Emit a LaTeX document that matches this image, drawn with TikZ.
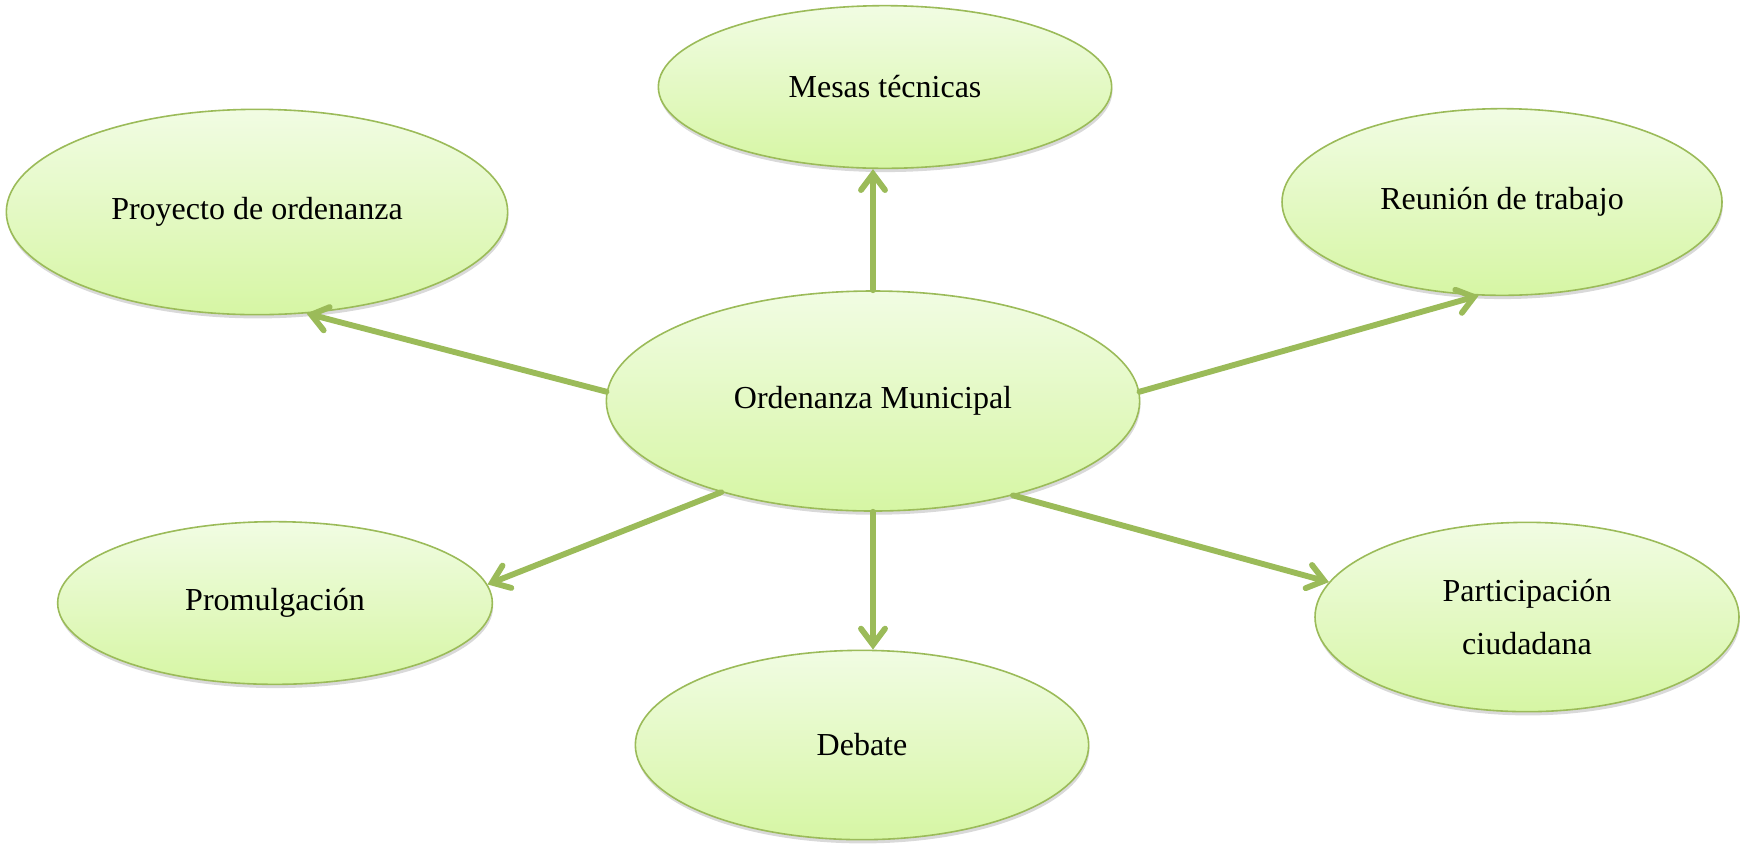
\documentclass[tikz,border=0pt]{standalone}
\usepackage{fontspec}
\setmainfont{Liberation Serif}
\usetikzlibrary{shapes.geometric,arrows.meta,shadows}
\definecolor{leafline}{HTML}{9BBB59}
\definecolor{leaftop}{HTML}{F1FCE3}
\definecolor{leafbot}{HTML}{D6F6A4}

\begin{document}
\begin{tikzpicture}[x=0.375pt,y=-0.375pt,
		idea/.style={ellipse, draw=leafline, line width=0.6pt, top color=leaftop, bottom color=leafbot,
			drop shadow={shadow xshift=0.3pt, shadow yshift=-1.4pt, opacity=0.3},
			inner sep=0pt, align=center, font=\fontsize{12}{20}\selectfont},
		link/.style={leafline, line width=2.2pt, line cap=round, -{Straight Barb[length=6pt,width=9pt,line cap=round]}}]
		\useasboundingbox (0,0) rectangle (1743,844);
		
		\node[idea, minimum width=200pt, minimum height=82.5pt] (orden) at (873,401) {Ordenanza Municipal};
		\node[idea, minimum width=170pt, minimum height=61pt] (mesas) at (885,87) {Mesas técnicas};
		\node[idea, minimum width=188pt, minimum height=77pt] (proy) at (257,212) {Proyecto de ordenanza};
		\node[idea, minimum width=165pt, minimum height=70pt] (reun) at (1502,202) {Reunión de trabajo};
		\node[idea, minimum width=163pt, minimum height=61pt] (prom) at (275,603) {Promulgación};
		\node[idea, minimum width=170pt, minimum height=71pt] (debate) at (862,745) {Debate};
		\node[idea, minimum width=159pt, minimum height=71pt] (part) at (1527,617) {Participación\\ciudadana};
		
		\draw[link] (orden.north) -- (orden.north |- mesas.south);
		\draw[link] (orden.178) -- (proy.-64);
		\draw[link] (orden.2) -- (reun.256);
		\draw[link] (orden.211) -- (prom.5);
		\draw[link] (orden.south) -- (orden.south |- debate.north);
		\draw[link] (orden.-34) -- (part.170);
	\end{tikzpicture}
\end{document}
